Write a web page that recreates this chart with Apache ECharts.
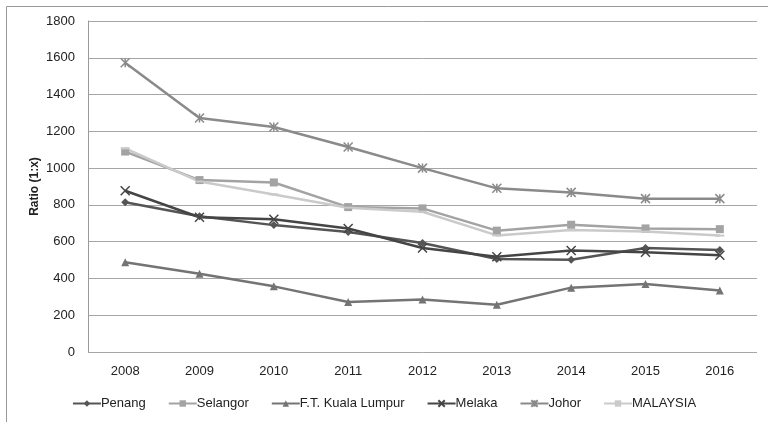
<!DOCTYPE html>
<html><head><meta charset="utf-8">
<script src="https://cdn.jsdelivr.net/npm/echarts@6/dist/echarts.min.js"></script>
<style>html,body{margin:0;padding:0;background:#fff}#c{width:768px;height:422px}</style>
</head><body><div id="c"></div>
<script>
var years = ['2008','2009','2010','2011','2012','2013','2014','2015','2016'];
var penang   = [814, 738, 690, 652, 593, 506, 502, 565, 555];
var selangor = [1090, 935, 922, 788, 781, 660, 692, 672, 668];
var kl       = [488, 425, 357, 272, 285, 257, 350, 370, 335];
var melaka   = [877, 733, 722, 672, 566, 518, 552, 542, 526];
var johor    = [1573, 1272, 1224, 1115, 1000, 890, 868, 834, 834];
var malaysia = [1107, 927, 857, 785, 763, 634, 663, 655, 633];
var names = ['Penang','Selangor','F.T. Kuala Lumpur','Melaka','Johor','MALAYSIA'];

var xPath = 'path://M0,0L10,10M10,0L0,10';
var starPath = 'path://M0,0L10,10M10,0L0,10M5,0L5,10';

function s(name, data, color, symbol, size) {
  return {
    name: name, type: 'line', data: data, symbol: symbol, symbolSize: size,
    showSymbol: true,
    lineStyle: {color: color, width: 2.5},
    itemStyle: {color: color, borderColor: color, borderWidth: (symbol.indexOf('path')===0 ? 1.5 : 0)},
    emphasis: {disabled: true}, animation: false
  };
}

var chart = echarts.init(document.getElementById('c'), null, {renderer: 'canvas'});
chart.setOption({
  animation: false,
  graphic: [{type: 'rect', shape: {x: 6.5, y: 6.5, width: 800, height: 500}, style: {fill: 'none', stroke: '#9a9a9a', lineWidth: 1}, z: -1}],
  grid: {left: 88, right: 11, top: 21, bottom: 70},
  legend: {
    bottom: 7, left: 'center', itemWidth: 28, itemHeight: 8, itemGap: 22,
    textStyle: {fontFamily: 'Liberation Sans', fontSize: 13, color: '#222', padding: [0,0,0,-5]},
    data: names.map(function(n){return {name: n};})
  },
  xAxis: {
    type: 'category', data: years, boundaryGap: true,
    axisLine: {show: false}, axisTick: {show: false},
    axisLabel: {fontFamily: 'Liberation Sans', fontSize: 13, color: '#222', margin: 13}
  },
  yAxis: {
    type: 'value', min: 0, max: 1800, interval: 200,
    name: 'Ratio (1:x)', nameLocation: 'middle', nameGap: 47, nameRotate: 90,
    nameMoveOverlap: false,
    nameTextStyle: {fontFamily: 'Liberation Sans', fontSize: 12, fontWeight: 'bold', color: '#222'},
    axisLine: {show: true, lineStyle: {color: '#9a9a9a', width: 1}},
    axisTick: {show: false},
    axisLabel: {fontFamily: 'Liberation Sans', fontSize: 13, color: '#222', margin: 13,
      formatter: function(v){ return String(v); }},
    splitLine: {lineStyle: {color: '#a6a6a6', width: 1}}
  },
  series: [
    s(names[0], penang, '#555555', 'diamond', 8),
    s(names[1], selangor, '#a3a3a3', 'rect', 8),
    s(names[2], kl, '#747474', 'triangle', 8),
    s(names[3], melaka, '#454545', xPath, 9),
    s(names[4], johor, '#8a8a8a', starPath, 9),
    s(names[5], malaysia, '#cacaca', 'rect', [9, 2])
  ]
});
</script></body></html>
